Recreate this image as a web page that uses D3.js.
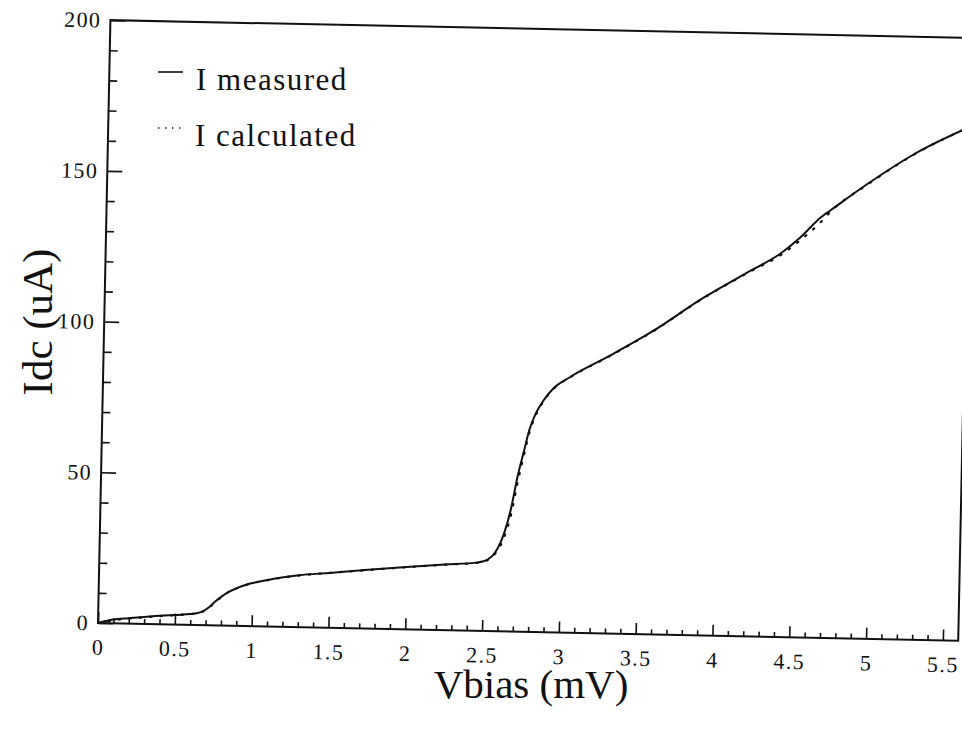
<!DOCTYPE html>
<html>
<head>
<meta charset="utf-8">
<script src="https://cdn.jsdelivr.net/npm/d3@7"></script>
<style>
  html, body { margin: 0; padding: 0; background: #fff; }
  svg { display: block; }
  text { font-family: "Liberation Serif", "Times New Roman", serif; fill: #111; }
</style>
</head>
<body>
<svg id="chart" width="962" height="730"></svg>
<script>
// ---- data ----
const vbias = [0, 0.05, 0.1, 0.2, 0.3, 0.4, 0.5, 0.6, 0.64, 0.68, 0.72, 0.76, 0.8, 0.85, 0.9, 0.95, 1.0, 1.1, 1.2, 1.3, 1.5, 1.75, 2.0, 2.25, 2.45, 2.5, 2.53, 2.56, 2.59, 2.63, 2.67, 2.71, 2.75, 2.78, 2.82, 2.87, 2.93, 3.04, 3.28, 3.56, 3.9, 4.2, 4.39, 4.52, 4.65, 4.71, 4.95, 5.25, 5.6];
const iMeasured = [0, 0.7, 1.3, 1.8, 2.3, 2.8, 3.2, 3.6, 3.9, 4.6, 6.0, 7.9, 9.6, 11.3, 12.5, 13.5, 14.3, 15.4, 16.4, 17.2, 18.2, 19.5, 20.7, 21.8, 22.6, 23.1, 23.8, 25.1, 27.4, 32.4, 40.2, 51.3, 60.2, 66.8, 72.4, 76.9, 80.8, 84.8, 91.7, 100.2, 112.1, 121.3, 127.1, 132.7, 139.5, 141.8, 150.9, 161.1, 170.3];
const iCalculated = [0, 0.5, 1.0, 1.7, 2.2, 2.7, 3.1, 3.6, 3.9, 4.5, 5.8, 7.7, 9.5, 11.3, 12.5, 13.5, 14.3, 15.4, 16.4, 17.1, 18.2, 19.4, 20.6, 21.7, 22.5, 23.0, 23.6, 24.8, 26.8, 31.0, 38.0, 49.0, 58.8, 65.8, 71.8, 76.6, 80.6, 84.7, 91.6, 100.1, 112.0, 121.1, 126.6, 131.8, 137.9, 141.3, 150.7, 161.0, 170.3];
const xMajorTicks = [0, 0.5, 1, 1.5, 2, 2.5, 3, 3.5, 4, 4.5, 5, 5.5];
const yMajorTicks = [0, 50, 100, 150, 200];
const legendLabels = ["I measured", "I calculated"];
const xTitle = "Vbias (mV)";
const yTitle = "Idc (uA)";

// ---- layout ----
const svg = d3.select("#chart");
const originX = 98, originY = 623;
const x = d3.scaleLinear().domain([0, 5.6]).range([originX, 958.4]);
const y = d3.scaleLinear().domain([0, 200]).range([originY, 20]);

// scanned page is slightly rotated
const g = svg.append("g").attr("transform", `rotate(1.18, ${originX}, ${originY})`);

// frame
g.append("rect")
  .attr("x", x(0)).attr("y", y(200))
  .attr("width", x(5.6) - x(0)).attr("height", y(0) - y(200))
  .attr("fill", "none").attr("stroke", "#111").attr("stroke-width", 2);

const minorX = d3.range(0, 56).map(d => d / 10).filter(d => Math.abs(d * 2 - Math.round(d * 2)) > 1e-6);
const minorY = d3.range(0, 201, 10).filter(d => d % 50 !== 0);

// y axis
const yMinor = g.append("g").attr("transform", `translate(${originX},0)`)
  .call(d3.axisLeft(y).tickValues(minorY).tickSize(-8).tickFormat(""));
const yMajor = g.append("g").attr("transform", `translate(${originX},0)`)
  .call(d3.axisLeft(y).tickValues(yMajorTicks).tickSize(-15).tickPadding(9).tickFormat(d3.format("d")));

// x axis
const xMinor = g.append("g").attr("transform", `translate(0,${originY})`)
  .call(d3.axisBottom(x).tickValues(minorX).tickSize(-5).tickFormat(""));
const xMajor = g.append("g").attr("transform", `translate(0,${originY})`)
  .call(d3.axisBottom(x).tickValues(xMajorTicks).tickSize(-11).tickPadding(16).tickFormat(d => String(d)));

[yMinor, yMajor, xMinor, xMajor].forEach(a => {
  a.select(".domain").remove();
  a.selectAll(".tick line").attr("stroke", "#111").attr("stroke-width", 1.6);
  a.selectAll("text").attr("font-size", 22).attr("fill", "#111")
    .style("font-family", '"Liberation Serif", serif').attr("letter-spacing", 1.4);
});

// curves
const line = d3.line().curve(d3.curveMonotoneX);
const measuredPts = vbias.map((v, i) => [x(v), y(iMeasured[i])]);
const calcPts = vbias.map((v, i) => [x(v), y(iCalculated[i])]);

g.append("path").attr("d", line(measuredPts))
  .attr("fill", "none").attr("stroke", "#111").attr("stroke-width", 2);
g.append("path").attr("d", line(calcPts))
  .attr("fill", "none").attr("stroke", "#111").attr("stroke-width", 2.2)
  .attr("stroke-dasharray", "1.5,9").attr("stroke-linecap", "round");

// legend
const leg = svg.append("g");
leg.append("line").attr("x1", 158).attr("x2", 183).attr("y1", 72).attr("y2", 72)
  .attr("stroke", "#111").attr("stroke-width", 1.6);
leg.append("text").attr("x", 196).attr("y", 90).attr("font-size", 31).attr("letter-spacing", 1.5)
  .text(legendLabels[0]);
leg.append("line").attr("x1", 158).attr("x2", 186).attr("y1", 128).attr("y2", 128)
  .attr("stroke", "#222").attr("stroke-width", 1.6).attr("stroke-dasharray", "1.5,5.5");
leg.append("text").attr("x", 195).attr("y", 146).attr("font-size", 31).attr("letter-spacing", 1.5)
  .text(legendLabels[1]);

// titles
svg.append("text").attr("x", 531).attr("y", 698).attr("text-anchor", "middle")
  .attr("font-size", 41).text(xTitle);
svg.append("text").attr("transform", "translate(52,322) rotate(-90)").attr("text-anchor", "middle")
  .attr("font-size", 43).text(yTitle);
</script>
</body>
</html>
